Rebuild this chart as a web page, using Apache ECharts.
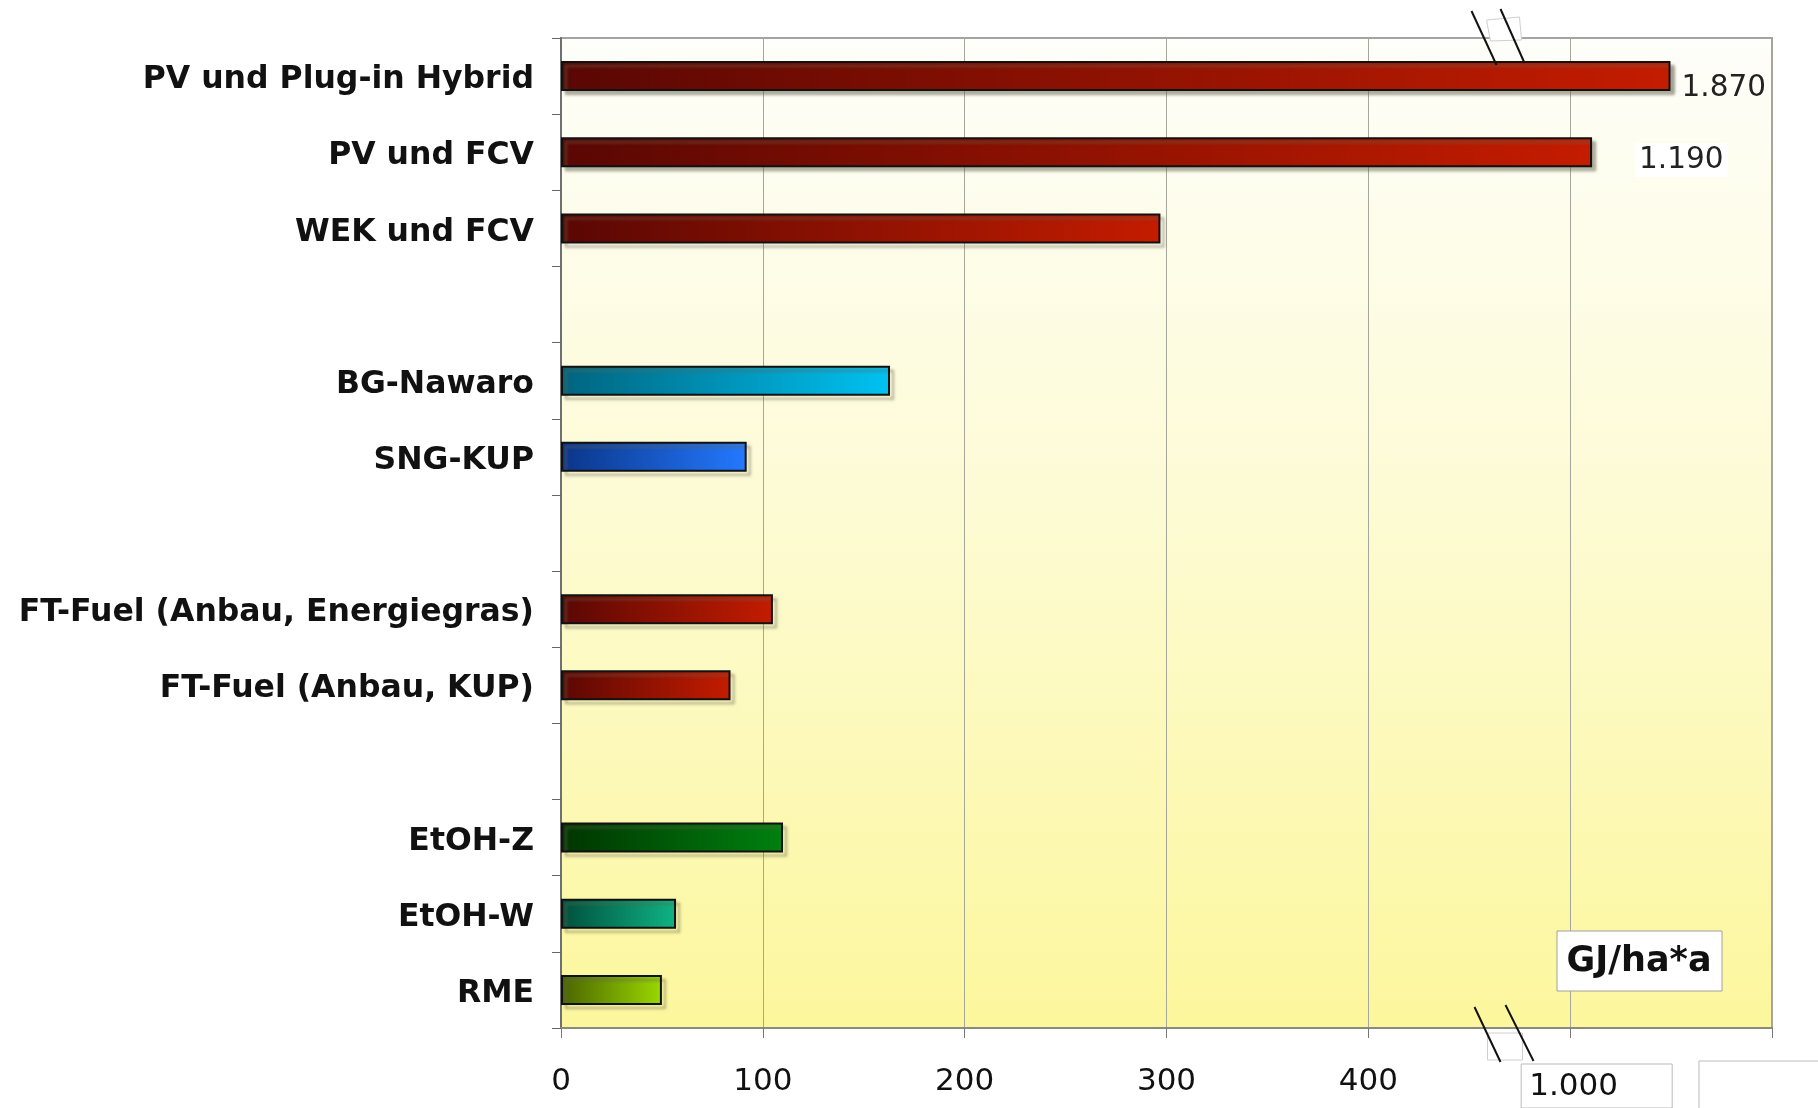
<!DOCTYPE html>
<html>
<head>
<meta charset="utf-8">
<script src="https://cdn.jsdelivr.net/npm/echarts@6.0.0/dist/echarts.min.js"></script>
<style>
  html, body { margin: 0; padding: 0; background: #fff; }
  #main { width: 1818px; height: 1108px; }
</style>
</head>
<body>
<div id="main"></div>
<script>
// Kategorien von oben nach unten ('' = Leerzeile zwischen den Gruppen)
var categories = ['PV und Plug-in Hybrid', 'PV und FCV', 'WEK und FCV', '',
  'BG-Nawaro', 'SNG-KUP', '',
  'FT-Fuel (Anbau, Energiegras)', 'FT-Fuel (Anbau, KUP)', '',
  'EtOH-Z', 'EtOH-W', 'RME'];
// Energieertrag in GJ/ha*a
var values = [1870, 1190, 297, null, 163, 92, null, 105, 84, null, 110, 57, 50];
var tickLabels = ['0', '100', '200', '300', '400', '1.000'];
var unitText = 'GJ/ha*a';

// Farbverlauf je Balken (links dunkel -> rechts hell)
var red = ['#5a0703', '#c41c00'];
var barColors = [red, red, red, null,
  ['#00647f', '#00c2f2'], ['#0a3588', '#2479ff'], null,
  red, red, null,
  ['#003500', '#00810f'], ['#00503c', '#0fb383'], ['#4a6400', '#9ad800']];

// Achsenbruch: oberhalb 1000 stark gestaucht
var BREAK_FROM = 1000, BREAK_AT = 500, SQUEEZE = 17.5;
function toAxis(v) { return v >= BREAK_FROM ? BREAK_AT + (v - BREAK_FROM) / SQUEEZE : v; }
function fmt(v) { return String(v).replace(/\B(?=(\d{3})+(?!\d))/g, '.'); }

var FONT = 'DejaVu Sans';
var labelOffsets = [[2, 12], [38, 8]];

var chart = echarts.init(document.getElementById('main'));

var seriesData = values.map(function (v, i) {
  if (v == null) return '-';
  var item = {
    value: toAxis(v),
    raw: v,
    itemStyle: {
      color: new echarts.graphic.LinearGradient(0, 0, 1, 0, [
        {offset: 0, color: barColors[i][0]},
        {offset: 1, color: barColors[i][1]}
      ])
    }
  };
  if (v >= BREAK_FROM) {
    item.label = {
      show: true,
      position: 'right',
      offset: labelOffsets[i] || [4, 0],
      formatter: fmt(v),
      fontFamily: FONT,
      fontSize: 29.5,
      color: '#222',
      backgroundColor: i === 1 ? '#ffffff' : 'transparent',
      padding: [2, 4]
    };
  }
  return item;
});

var option = {
  backgroundColor: '#ffffff',
  animation: false,
  grid: {
    left: 561, right: 46, top: 38, bottom: 80,
    show: true,
    borderColor: '#a3a3a3',
    borderWidth: 2,
    backgroundColor: new echarts.graphic.LinearGradient(0, 0, 0, 1, [
      {offset: 0, color: '#fefefa'},
      {offset: 0.45, color: '#fdfbd6'},
      {offset: 1, color: '#fcf79c'}
    ])
  },
  xAxis: {
    type: 'value',
    min: 0, max: 600, interval: 100,
    axisLine: {show: true, lineStyle: {color: '#8a8a80', width: 2}},
    axisTick: {show: true, length: 10, lineStyle: {color: '#777'}},
    splitLine: {show: true, lineStyle: {color: '#a6a69a', width: 1}},
    axisLabel: {
      margin: 38,
      fontFamily: FONT,
      fontSize: 31,
      color: '#111',
      formatter: function (v) {
        var i = Math.round(v / 100);
        return i < 5 ? tickLabels[i] : '';
      }
    }
  },
  yAxis: {
    type: 'category',
    inverse: true,
    data: categories,
    axisLine: {show: true, lineStyle: {color: '#707070', width: 2}},
    axisTick: {show: true, length: 9, lineStyle: {color: '#666'}},
    axisLabel: {
      margin: 27,
      formatter: function (s) { return s ? '{c|' + s + '}' : ''; },
      rich: {
        c: {
          padding: [8, 0, 0, 0],
          fontFamily: FONT,
          fontWeight: 'bold',
          fontSize: 31.5,
          color: '#111'
        }
      }
    }
  },
  series: [{
    type: 'bar',
    barWidth: 30,
    data: seriesData,
    itemStyle: {
      borderColor: '#111',
      borderWidth: 2,
      shadowColor: 'rgba(100,100,80,0.55)',
      shadowBlur: 3,
      shadowOffsetX: 4,
      shadowOffsetY: 4
    }
  }]
};

chart.setOption(option);

// Bruchzeichen, Einheit und "1.000"-Beschriftung an Achsenposition ausrichten
var bx = chart.convertToPixel({xAxisIndex: 0}, 464);
var x1000 = chart.convertToPixel({xAxisIndex: 0}, BREAK_AT);
var xEnd = chart.convertToPixel({xAxisIndex: 0}, 600);
var lineStyle = {stroke: '#111', lineWidth: 2};
var patchStyle = {fill: '#ffffff', stroke: '#cfcfcf', lineWidth: 1};

chart.setOption({
  graphic: [
    // oben
    {type: 'polygon', shape: {points: [[bx - 11, 20], [bx + 22, 17], [bx + 24, 40], [bx - 7, 41]]}, style: patchStyle, z: 100},
    {type: 'line', shape: {x1: bx - 26, y1: 11, x2: bx - 1, y2: 65}, style: lineStyle, z: 101},
    {type: 'line', shape: {x1: bx + 3, y1: 9, x2: bx + 27, y2: 63}, style: lineStyle, z: 101},
    // unten
    {type: 'rect', shape: {x: bx - 10, y: 1033, width: 35, height: 27}, style: patchStyle, z: 100},
    {type: 'line', shape: {x1: bx - 23, y1: 1007, x2: bx + 3, y2: 1062}, style: lineStyle, z: 101},
    {type: 'line', shape: {x1: bx + 8, y1: 1005, x2: bx + 36, y2: 1061}, style: lineStyle, z: 101},
    // "1.000" Box
    {type: 'rect', shape: {x: x1000 - 49, y: 1064, width: 151, height: 44},
      style: {fill: '#fff', stroke: '#bbbbbb', lineWidth: 1}, z: 100},
    {type: 'text', x: x1000 - 41, y: 1087, z: 102,
      style: {text: tickLabels[5], font: '31px "DejaVu Sans"', fill: '#111', verticalAlign: 'middle'}},
    // leere Box rechts unten
    {type: 'rect', shape: {x: xEnd - 73, y: 1061, width: 140, height: 60},
      style: {fill: '#fff', stroke: '#bbbbbb', lineWidth: 1}, z: 100},
    // Einheit
    {type: 'rect', shape: {x: 1557, y: 931, width: 165, height: 60},
      style: {fill: '#ffffff', stroke: '#a0a0a0', lineWidth: 1}, z: 100},
    {type: 'text', x: 1639, y: 962, z: 102,
      style: {text: unitText, font: 'bold 35px "DejaVu Sans"', fill: '#111', align: 'center', verticalAlign: 'middle'}}
  ]
});
</script>
</body>
</html>
